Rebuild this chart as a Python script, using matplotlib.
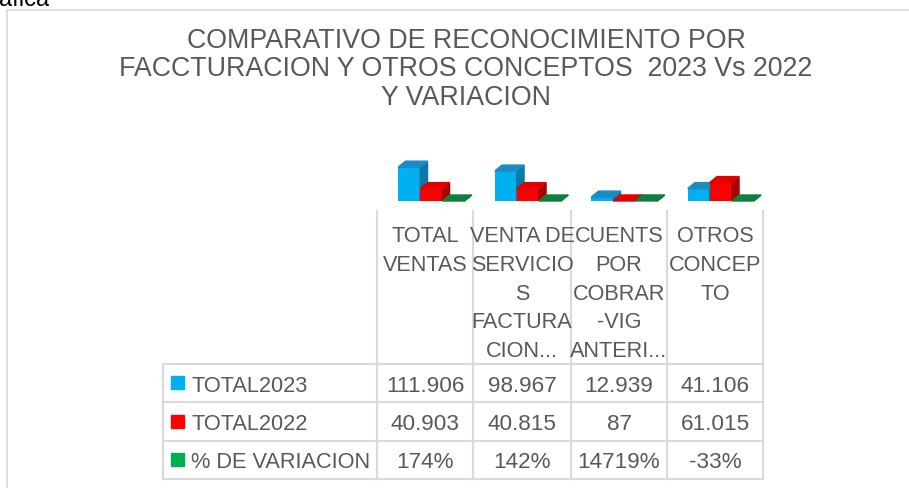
import matplotlib
matplotlib.use("Agg")
import matplotlib.pyplot as plt
from matplotlib.patches import Polygon, Rectangle

plt.rcParams['font.family'] = ['Liberation Sans', 'DejaVu Sans']

# data (values shown in the data table)
categorias = [
    ["TOTAL", "VENTAS"],
    ["VENTA DE", "SERVICIO", "S", "FACTURA", "CION..."],
    ["CUENTS", "POR", "COBRAR", "-VIG", "ANTERI..."],
    ["OTROS", "CONCEP", "TO"],
]
series = ["TOTAL2023", "TOTAL2022", "% DE VARIACION"]
total_2023 = [111906, 98967, 12939, 41106]
total_2022 = [40903, 40815, 87, 61015]
variacion_pct = [174, 142, 14719, -33]

colores = ["#00B0F0", "#FF0000", "#00B050"]
tapas = ["#1B8CC2", "#E00000", "#0E7F3E"]
lados = ["#0A78A8", "#A80000", "#0A6A30"]
gris = "#595959"
linea = "#D9D9D9"

W, H = 909, 489
fig = plt.figure(figsize=(W / 100, H / 100), dpi=100)

# layout axes in pixel units
lay = fig.add_axes([0, 0, 1, 1])
lay.set_xlim(0, W)
lay.set_ylim(H, 0)
lay.axis('off')

lay.text(-1, 6, "áfica", fontsize=17, color="black", va='baseline', ha='left')
lay.plot([7, 7], [11, H], color=linea, lw=1.2)
lay.plot([7, W], [11, 11], color=linea, lw=1.2)

titulo = ["COMPARATIVO DE RECONOCIMIENTO POR",
          "FACCTURACION Y OTROS CONCEPTOS  2023 Vs 2022",
          "Y VARIACION"]
for i, t in enumerate(titulo):
    lay.text(466, 48 + 28.5 * i, t, fontsize=19.3, color=gris, ha='center', va='baseline')

# ---- 3D-like clustered columns
col_x = [377, 473, 571, 667, 763]
base_y = 202
ax = fig.add_axes([col_x[0] / W, 1 - base_y / H, (col_x[-1] - col_x[0]) / W, 52 / H])
ax.axis('off')
ax.set_xlim(-0.5, 3.5)
ymax = 172000
ax.set_ylim(0, ymax)
dx = 7.3 / 96.5
dy = 6 / 52 * ymax
w = 0.228
offs = [-0.28, -0.052, 0.176]

valores = [total_2023, total_2022, [p / 100 for p in variacion_pct]]
for i in range(len(total_2023)):
    for s in range(3):
        h = max(valores[s][i], 0)
        x0 = i + offs[s]
        x1 = x0 + w
        ax.bar(x0, h, width=w, align='edge', color=colores[s], zorder=3 + s)
        ax.add_patch(Polygon([(x1, 0), (x1 + dx, dy), (x1 + dx, h + dy), (x1, h)],
                             closed=True, color=lados[s], zorder=3 + s, clip_on=False))
        ax.add_patch(Polygon([(x0, h), (x1, h), (x1 + dx, h + dy), (x0 + dx, h + dy)],
                             closed=True, color=tapas[s], zorder=3 + s, clip_on=False))

# ---- data table
for x in col_x:
    lay.plot([x, x], [212, 365], color=linea, lw=1.5)
filas_y = [365, 403, 442, 480]
for y in filas_y:
    lay.plot([163, 763], [y, y], color=linea, lw=1.5)
for x in [163] + col_x:
    lay.plot([x, x], [365, 480], color=linea, lw=1.5)

for j, cat in enumerate(categorias):
    cx = (col_x[j] + col_x[j + 1]) / 2
    for k, t in enumerate(cat):
        lay.text(cx, 242 + 28.8 * k, t, fontsize=15.6, color=gris, ha='center', va='baseline')

def fmt(v):
    return f"{v:,}".replace(",", ".")

etiquetas = [[fmt(v) for v in total_2023],
             [fmt(v) for v in total_2022],
             [f"{p}%" for p in variacion_pct]]
for r in range(3):
    yc = (filas_y[r] + filas_y[r + 1]) / 2
    lay.add_patch(Rectangle((171, yc - 7), 13, 13, color=colores[r]))
    lay.text(191, yc + 7.5, series[r], fontsize=15.7, color=gris, ha='left', va='baseline')
    for j in range(4):
        cx = (col_x[j] + col_x[j + 1]) / 2
        lay.text(cx, yc + 7.5, etiquetas[r][j], fontsize=16.2, color=gris, ha='center', va='baseline')

fig.savefig("out.png", dpi=100)
